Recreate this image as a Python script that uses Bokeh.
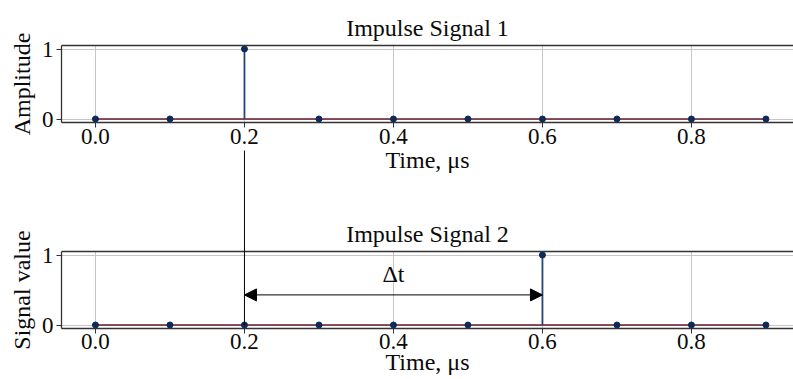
import numpy as np
from bokeh.plotting import figure
from bokeh.layouts import column
from bokeh.models import Range1d, FixedTicker, LinearAxis, Arrow, NormalHead, Label
from bokeh.embed import file_html
from bokeh.resources import INLINE

# ---- data ----
time_us = [0.0, 0.1, 0.2, 0.3, 0.4, 0.5, 0.6, 0.7, 0.8, 0.9]
signal1 = [0, 0, 1, 0, 0, 0, 0, 0, 0, 0]
signal2 = [0, 0, 0, 0, 0, 0, 1, 0, 0, 0]
x_ticks = [0.0, 0.2, 0.4, 0.6, 0.8]
x_tick_labels = ["0.0", "0.2", "0.4", "0.6", "0.8"]
y_ticks = [0, 1]
y_tick_labels = ["0", "1"]
titles = ["Impulse Signal 1", "Impulse Signal 2"]
y_labels = ["Amplitude", "Signal value"]
x_label = "Time, \u03bcs"
delta_label = "\u0394t"

FONT = "Liberation Serif"
FRAME = "#333333"
GRID = "#c6c6c6"
STEM = "#24457a"
MARK = "#0f2a5a"
BASE = "#6a1b2c"
TXT = "#0a0a0a"

t1 = time_us[int(np.argmax(signal1))]
t2 = time_us[int(np.argmax(signal2))]


def make(title, ylabel, sig, top_border, xlabel_standoff, xtick_standoff):
    p = figure(frame_width=732, frame_height=77,
               x_range=Range1d(-0.0456, 0.937), y_range=Range1d(-0.05, 1.05),
               output_backend="svg", toolbar_location=None, title=title,
               min_border_left=61, min_border_right=0, min_border_top=top_border,
               min_border_bottom=0)
    p.outline_line_color = None
    p.background_fill_color = "white"
    p.border_fill_color = "white"
    p.title.text_font = FONT
    p.title.text_font_size = "24px"
    p.title.text_font_style = "normal"
    p.title.align = "center"
    p.title.text_color = TXT
    p.title.standoff = 10

    for ax in (p.xaxis[0], p.yaxis[0]):
        ax.axis_line_color = FRAME
        ax.axis_line_width = 1.3
        ax.major_tick_line_color = FRAME
        ax.major_tick_out = 5
        ax.major_tick_in = 0
        ax.minor_tick_line_color = None
        ax.major_label_text_font = FONT
        ax.major_label_text_font_size = "23px"
        ax.major_label_text_color = TXT
        ax.axis_label_text_font = FONT
        ax.axis_label_text_font_size = "24px"
        ax.axis_label_text_font_style = "normal"
        ax.axis_label_text_color = TXT
    p.xaxis[0].ticker = FixedTicker(ticks=x_ticks)
    p.xaxis[0].major_label_overrides = dict(zip(x_ticks, x_tick_labels))
    p.xaxis[0].axis_label = x_label
    p.xaxis[0].major_label_standoff = xtick_standoff
    p.xaxis[0].axis_label_standoff = xlabel_standoff
    p.yaxis[0].ticker = FixedTicker(ticks=y_ticks)
    p.yaxis[0].major_label_overrides = dict(zip(y_ticks, y_tick_labels))
    p.yaxis[0].axis_label = ylabel
    p.yaxis[0].major_label_standoff = 3
    p.yaxis[0].axis_label_standoff = 4

    top = LinearAxis(ticker=FixedTicker(ticks=[]), axis_line_color=FRAME, axis_line_width=1.3,
                     major_tick_line_color=None, minor_tick_line_color=None,
                     major_label_text_font_size="0px", major_tick_out=0, major_label_standoff=0)
    p.add_layout(top, "above")

    p.xgrid.ticker = FixedTicker(ticks=x_ticks)
    p.ygrid.ticker = FixedTicker(ticks=y_ticks)
    p.xgrid.grid_line_color = GRID
    p.ygrid.grid_line_color = GRID

    zeros = [0] * len(time_us)
    p.line(time_us, zeros, line_color=BASE, line_width=1.5)
    p.segment(x0=time_us, y0=zeros, x1=time_us, y1=sig, line_color=STEM, line_width=1.8)
    p.scatter(time_us, sig, size=6, fill_color=MARK, line_color=MARK)
    return p


p1 = make(titles[0], y_labels[0], signal1, 45, 0, 1)
p2 = make(titles[1], y_labels[1], signal2, 76, -3, 0)

# connecting line from the first impulse down to the same instant in signal 2
p1.segment(x0=[t1], y0=[-0.45], x1=[t1], y1=[-10], line_color="black", line_width=1, level="overlay")
p2.segment(x0=[t1], y0=[0], x1=[t1], y1=[10], line_color="black", line_width=1, level="overlay")

# delta-t arrow between the two impulses
p2.add_layout(Arrow(x_start=t1, y_start=0.43, x_end=t2, y_end=0.43,
                    start=NormalHead(size=12, fill_color="black", line_color="black"),
                    end=NormalHead(size=12, fill_color="black", line_color="black"),
                    line_color="black", line_width=1))
p2.add_layout(Label(x=(t1 + t2) / 2, y=0.73, text=delta_label, text_align="center",
                    text_baseline="middle", text_font=FONT, text_font_size="24px",
                    text_color=TXT))

layout = column(p1, p2, spacing=0)
open("out.html", "w").write(file_html(layout, INLINE))
